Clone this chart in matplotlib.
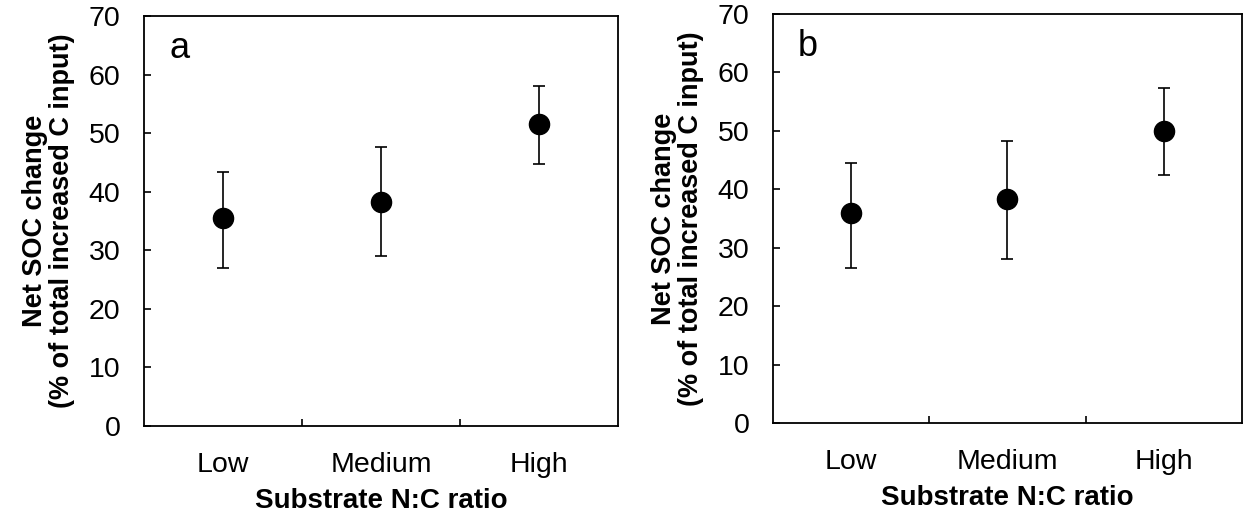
import numpy as np
import matplotlib.pyplot as plt

plt.rcParams['font.family'] = ['Liberation Sans', 'DejaVu Sans']

categories = ["Low", "Medium", "High"]

# panel a
mean_a = [35.5, 38.3, 51.6]
upper_a = [43.4, 47.6, 58.1]
lower_a = [27.0, 29.0, 44.8]

# panel b
mean_b = [35.9, 38.4, 49.9]
upper_b = [44.5, 48.3, 57.4]
lower_b = [26.6, 28.0, 42.4]

y_ticks = [0, 10, 20, 30, 40, 50, 60, 70]

fig = plt.figure(figsize=(12.44, 5.16), dpi=100)
W, H = 1244, 516

def draw_panel(rect, mean, upper, lower, letter):
    ax = fig.add_axes(rect)
    x = np.arange(len(categories))
    mean = np.array(mean)
    err = [mean - np.array(lower), np.array(upper) - mean]
    ax.errorbar(x, mean, yerr=err, fmt='o', color='black', markersize=14.5,
                elinewidth=1.2, capsize=4, capthick=1.2)
    ax.set_xlim(-0.5, 2.5)
    ax.set_ylim(0, 70)
    ax.set_yticks(y_ticks)
    ax.set_xticks(x)
    ax.set_xticklabels(categories)
    ax.set_xticks([0.5, 1.5], minor=True)
    ax.tick_params(axis='x', which='major', length=0, pad=19, labelsize=20.5)
    ax.tick_params(axis='x', which='minor', direction='in', length=5, width=1.2)
    ax.tick_params(axis='y', direction='in', length=5, width=1.2, pad=17, labelsize=20.5)
    for s in ax.spines.values():
        s.set_linewidth(1.3)
    ax.set_xlabel("Substrate N:C ratio", fontsize=20, fontweight='bold', labelpad=7)
    ax.set_ylabel("Net SOC change\n(% of total increased C input)", fontsize=19.5,
                  fontweight='bold', labelpad=10, linespacing=1.05)
    ax.text(0.053, 0.92, letter, transform=ax.transAxes, fontsize=26,
            ha='left', va='center')
    return ax

draw_panel([144 / W, (516 - 426) / H, 474 / W, 410 / H], mean_a, upper_a, lower_a, "a")
draw_panel([773 / W, (516 - 423) / H, 469 / W, 409 / H], mean_b, upper_b, lower_b, "b")

fig.savefig("out.png", dpi=100)
